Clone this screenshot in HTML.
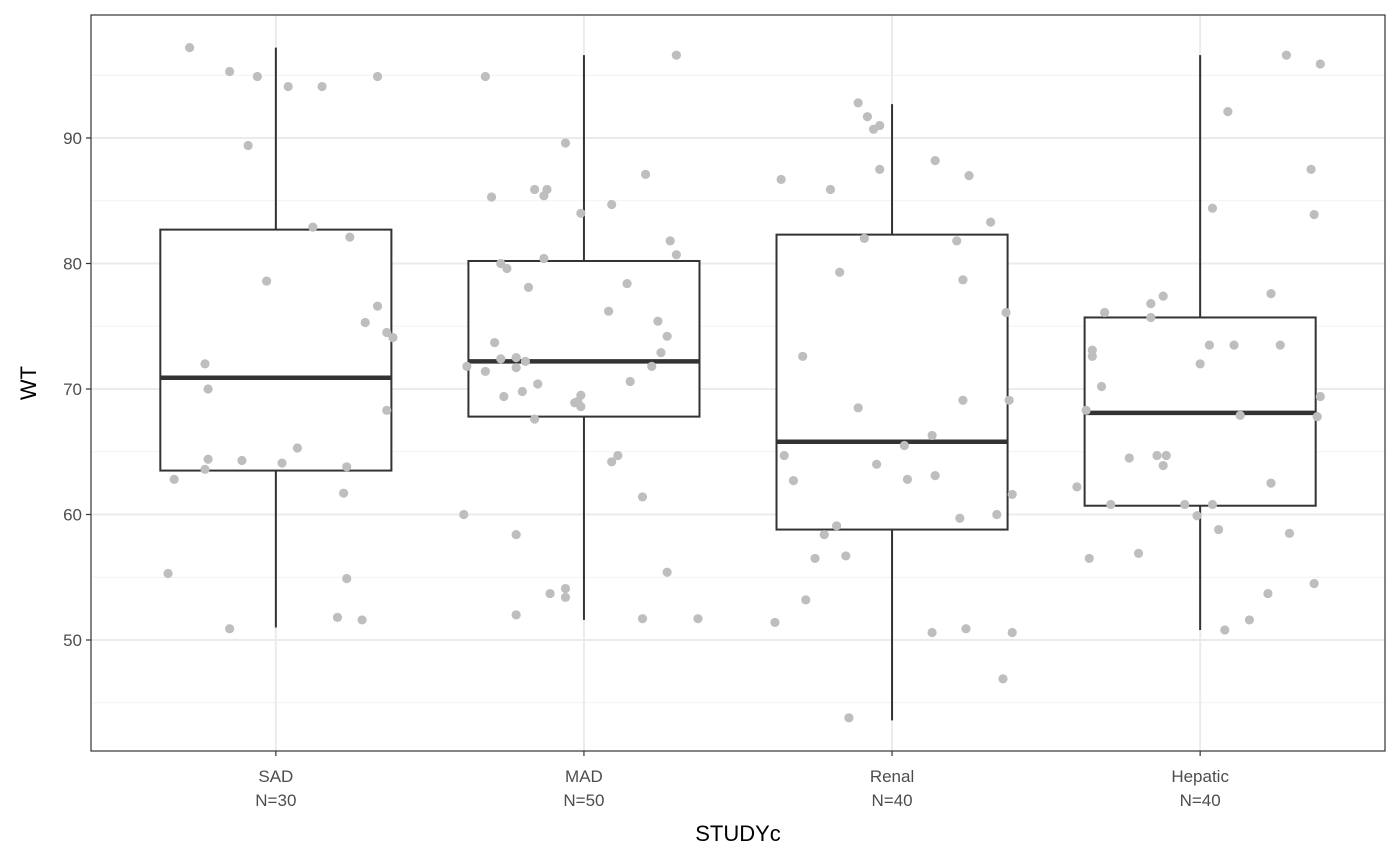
<!DOCTYPE html>
<html><head><meta charset="utf-8"><style>
html,body{margin:0;padding:0;background:#fff;}
svg{display:block;font-family:"Liberation Sans","DejaVu Sans",sans-serif;}
</style></head><body>
<svg id="chart" width="1400" height="866"></svg>
<script>
const categories = ["SAD","MAD","Renal","Hepatic"];
const counts = [30,50,40,40];
const yTicks = [50,60,70,80,90];
const yMinor = [45,55,65,75,85,95];
const q1 = [63.5,67.8,58.8,60.7];
const median = [70.9,72.2,65.8,68.1];
const q3 = [82.7,80.2,82.3,75.7];
const whiskerLo = [51.0,51.6,43.6,50.8];
const whiskerHi = [97.2,96.6,92.7,96.6];
const sadVals = [97.2,95.3,94.9,94.1,94.1,94.9,89.4,82.9,82.1,78.6,76.6,75.3,74.5,74.1,72.0,70.0,68.3,65.3,64.4,64.3,64.1,63.8,63.6,62.8,61.7,55.3,54.9,51.8,51.6,50.9];
const sadJit = [-.28,-.15,-.06,.04,.15,.33,-.09,.12,.24,-.03,.33,.29,.36,.38,-.23,-.22,.36,.07,-.22,-.11,.02,.23,-.23,-.33,.22,-.35,.23,.20,.28,-.15];
const madVals = [94.9,96.6,89.6,85.3,85.9,85.9,85.4,87.1,84.7,84.0,81.8,80.7,80.0,79.6,80.4,78.1,78.4,76.2,75.4,74.2,73.7,72.9,71.8,71.4,72.4,72.5,72.2,71.7,71.8,70.4,70.6,69.8,69.4,69.5,68.9,68.6,67.6,64.7,64.2,61.4,60.0,58.4,55.4,54.1,53.4,53.7,51.7,51.7,52.0,69.0];
const madJit = [-.32,.30,-.06,-.30,-.16,-.12,-.13,.20,.09,-.01,.28,.30,-.27,-.25,-.13,-.18,.14,.08,.24,.27,-.29,.25,-.38,-.32,-.27,-.22,-.19,-.22,.22,-.15,.15,-.20,-.26,-.01,-.03,-.01,-.16,.11,.09,.19,-.39,-.22,.27,-.06,-.06,-.11,.19,.37,-.22,-.02];
const renVals = [92.8,91.7,91.0,90.7,87.5,88.2,85.9,87.0,86.7,82.0,81.8,83.3,79.3,78.7,76.1,72.6,68.5,69.1,69.1,66.3,65.5,64.0,64.7,62.7,62.8,63.1,61.6,59.7,60.0,59.1,58.4,56.5,56.7,53.2,51.4,50.9,50.6,50.6,46.9,43.8];
const renJit = [-.11,-.08,-.04,-.06,-.04,.14,-.20,.25,-.36,-.09,.21,.32,-.17,.23,.37,-.29,-.11,.23,.38,.13,.04,-.05,-.35,-.32,.05,.14,.39,.22,.34,-.18,-.22,-.25,-.15,-.28,-.38,.24,.13,.39,.36,-.14];
const hepVals = [96.6,95.9,92.1,87.5,84.4,83.9,77.6,77.4,76.1,76.8,75.7,73.1,72.6,73.5,73.5,73.5,72.0,70.2,68.3,67.9,69.4,67.8,64.5,64.7,64.7,63.9,62.5,62.2,60.8,60.8,60.8,59.9,58.8,58.5,56.5,56.9,54.5,53.7,51.6,50.8];
const hepJit = [.28,.39,.09,.36,.04,.37,.23,-.12,-.31,-.16,-.16,-.35,-.35,.03,.11,.26,.00,-.32,-.37,.13,.39,.38,-.23,-.14,-.11,-.12,.23,-.40,-.29,.04,-.05,-.01,.06,.29,-.36,-.20,.37,.22,.16,.08];
const groupVals = [sadVals,madVals,renVals,hepVals];
const groupJit = [sadJit,madJit,renJit,hepJit];

const NS="http://www.w3.org/2000/svg";
const svg=document.getElementById('chart');
const P={l:91,r:1385,t:15,b:751};
const step=(P.r-P.l)/(categories.length-1+1.2);
const xS=i=>P.l+step*(i+0.6);
const yS=v=>138+(90-v)*12.55;
function el(t,a,parent){const e=document.createElementNS(NS,t);for(const k in a)e.setAttribute(k,a[k]);(parent||svg).appendChild(e);return e;}

const grid=el('g',{});


yMinor.forEach(v=>el('line',{x1:P.l,x2:P.r,y1:yS(v),y2:yS(v),stroke:'#f2f2f2','stroke-width':1},grid));
yTicks.forEach(v=>el('line',{x1:P.l,x2:P.r,y1:yS(v),y2:yS(v),stroke:'#ebebeb','stroke-width':2},grid));
categories.forEach((c,i)=>el('line',{x1:xS(i),x2:xS(i),y1:P.t,y2:P.b,stroke:'#ebebeb','stroke-width':2},grid));

categories.forEach((c,i)=>{
  const g=el('g',{});
  
  
  const hw=step*0.375;
  el('line',{x1:xS(i),x2:xS(i),y1:yS(whiskerHi[i]),y2:yS(q3[i]),stroke:'#333','stroke-width':2},g);
  el('line',{x1:xS(i),x2:xS(i),y1:yS(q1[i]),y2:yS(whiskerLo[i]),stroke:'#333','stroke-width':2},g);
  el('rect',{x:xS(i)-hw,y:yS(q3[i]),width:hw*2,height:yS(q1[i])-yS(q3[i]),fill:'#fff',stroke:'#333','stroke-width':2},g);
  el('line',{x1:xS(i)-hw,x2:xS(i)+hw,y1:yS(median[i]),y2:yS(median[i]),stroke:'#333','stroke-width':4.5},g);
});
groupVals.forEach((vals,i)=>{
  const g=el('g',{});
  
  
  vals.forEach((v,j)=>{
    const c=el('circle',{cx:xS(i+groupJit[i][j]),cy:yS(v),r:4.6,fill:'#bebebe'},g);
    
    
  });
});
const border=el('rect',{x:P.l,y:P.t,width:P.r-P.l,height:P.b-P.t,fill:'none',stroke:'#333','stroke-width':1.2});



yTicks.forEach(v=>{
  el('line',{x1:P.l-5,x2:P.l,y1:yS(v),y2:yS(v),stroke:'#333','stroke-width':1.2});
  const t=el('text',{x:P.l-9,y:yS(v)+6,'text-anchor':'end','font-size':17,fill:'#4d4d4d'});
  t.textContent=v;
  
  
});
categories.forEach((c,i)=>{
  el('line',{x1:xS(i),x2:xS(i),y1:P.b,y2:P.b+5,stroke:'#333','stroke-width':1.2});
  const t=el('text',{x:xS(i),y:782,'text-anchor':'middle','font-size':17,fill:'#4d4d4d'});
  t.textContent=c;
  
  
  const n=el('text',{x:xS(i),y:806,'text-anchor':'middle','font-size':17,fill:'#4d4d4d'});
  n.textContent='N='+counts[i];
  
  
});
const xt=el('text',{x:(P.l+P.r)/2,y:841,'text-anchor':'middle','font-size':22,fill:'#000'});
xt.textContent='STUDYc';


const yt=el('text',{x:0,y:0,'text-anchor':'middle','font-size':22,fill:'#000',transform:'translate(36,383) rotate(-90)'});
yt.textContent='WT';


</script>
</body></html>
